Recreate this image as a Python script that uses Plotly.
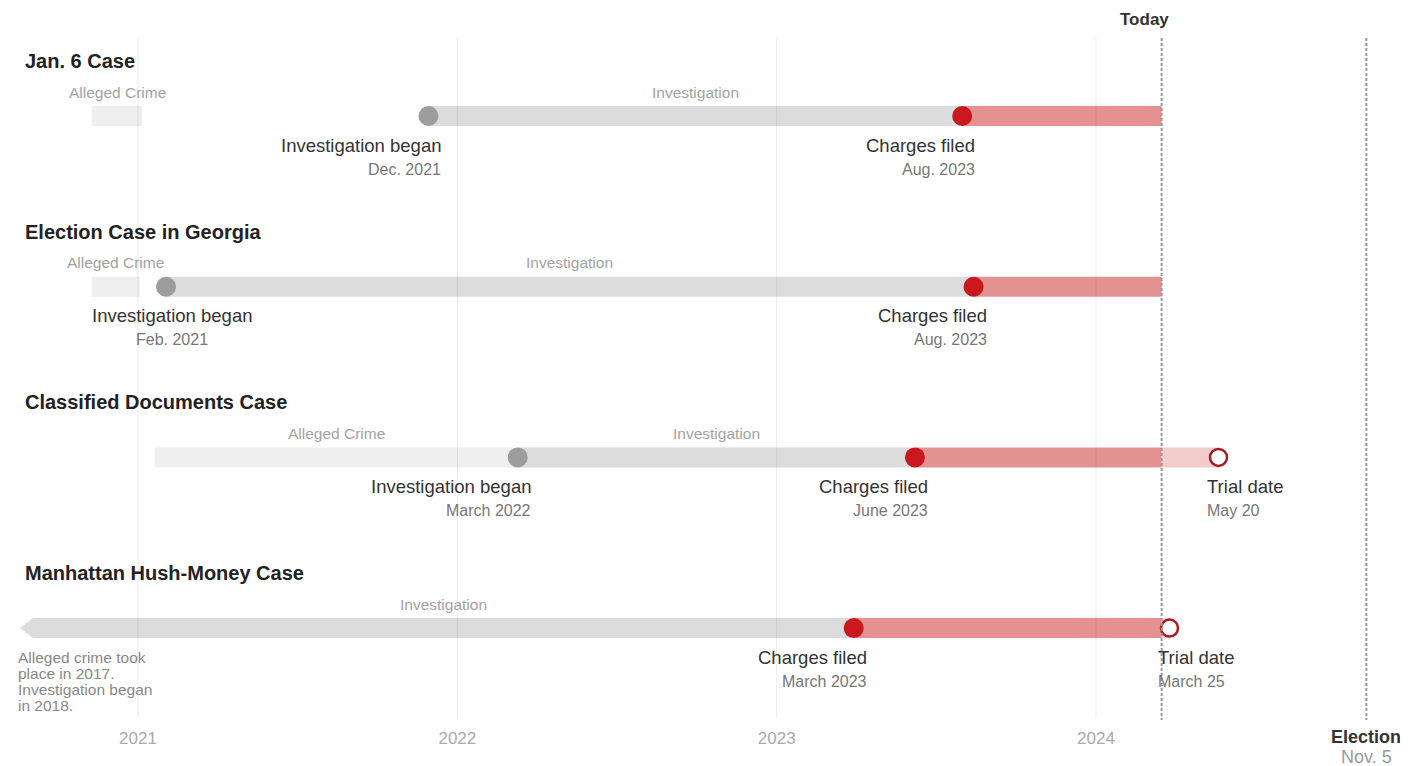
import plotly.graph_objects as go
import pandas as pd

# ---------------- data ----------------
cases = ["Jan. 6 Case", "Election Case in Georgia", "Classified Documents Case", "Manhattan Hush-Money Case"]
crime_start = ["2020-11-09", "2020-11-09", "2021-01-20", None]
crime_end = ["2021-01-06", "2021-01-03", "2022-03-11", None]
inv_start = ["2021-11-29", "2021-02-02", "2022-03-11", "2020-09-03"]
inv_has_dot = [True, True, True, False]
inv_label = ["Dec. 2021", "Feb. 2021", "March 2022", None]
charges = ["2023-08-01", "2023-08-14", "2023-06-08", "2023-03-30"]
charges_label = ["Aug. 2023", "Aug. 2023", "June 2023", "March 2023"]
trial = [None, None, "2024-05-20", "2024-03-25"]
trial_label = [None, None, "May 20", "March 25"]
today = "2024-03-16"
election = "2024-11-05"
year_ticks = ["2021-01-01", "2022-01-01", "2023-01-01", "2024-01-01"]
year_labels = ["2021", "2022", "2023", "2024"]
manhattan_note = ["Alleged crime took", "place in 2017.", "Investigation began", "in 2018."]

# ---------------- style ----------------
FONT = "Liberation Sans, Arial, sans-serif"
C_CRIME = "#efefef"
C_INV = "#dcdcdc"
C_RED = "#e39191"
C_PINK = "#f3cbcb"
C_DOT_GRAY = "#9d9d9d"
C_DOT_RED = "#c9181e"
C_RING = "#a51c24"
ROW0, ROW_GAP, HALF = 116, 170.7, 10
PAGE_OFF = 8          # default page body margin
W, H = 1408 - PAGE_OFF, 766 - PAGE_OFF


def midpoint(a, b):
    ta, tb = pd.Timestamp(a), pd.Timestamp(b)
    return (ta + (tb - ta) / 2).strftime("%Y-%m-%d %H:%M")


fig = go.Figure()
shapes = []
ann = []


def rect(x0, x1, y, color):
    shapes.append(dict(type="rect", xref="x", yref="y", x0=x0, x1=x1,
                       y0=y - HALF, y1=y + HALF, fillcolor=color,
                       line=dict(width=0), layer="below"))


for i, name in enumerate(cases):
    y = ROW0 + ROW_GAP * i
    # title
    ann.append(dict(xref="paper", yref="y", x=(23 - PAGE_OFF) / W, y=y - 55, text=f"<b>{name}</b>",
                    xanchor="left", yanchor="middle", showarrow=False,
                    font=dict(family=FONT, size=20, color="#222")))
    # alleged crime
    if crime_start[i]:
        rect(crime_start[i], crime_end[i], y, C_CRIME)
        ann.append(dict(xref="x", yref="y", x=midpoint(crime_start[i], crime_end[i]), y=y - 24,
                        text="Alleged Crime", showarrow=False, xanchor="center", yanchor="middle",
                        font=dict(family=FONT, size=15.5, color="#a3a3a3")))
    # investigation
    rect(inv_start[i], charges[i], y, C_INV)
    ann.append(dict(xref="x", yref="y", x=midpoint(inv_start[i], charges[i]), y=y - 24,
                    text="Investigation", showarrow=False, xanchor="center", yanchor="middle",
                    font=dict(family=FONT, size=15.5, color="#a3a3a3")))
    if not inv_has_dot[i]:
        shapes.append(dict(type="path", xref="x", yref="y", xsizemode="pixel", ysizemode="pixel",
                           xanchor=inv_start[i], yanchor=y,
                           path=f"M0,-{HALF} L0,{HALF} L-13,0 Z",
                           fillcolor=C_INV, line=dict(width=0), layer="below"))
    # charged -> today
    rect(charges[i], today, y, C_RED)
    if trial[i]:
        rect(today, trial[i], y, C_PINK)

    # investigation began dot + labels
    if inv_has_dot[i]:
        fig.add_trace(go.Scatter(x=[inv_start[i]], y=[y], mode="markers", hoverinfo="skip",
                                 marker=dict(size=20, color=C_DOT_GRAY, line=dict(width=0))))
        if i == 1:
            xa, xs = "center", 6
        else:
            xa, xs = "right", 15
        ann.append(dict(xref="x", yref="y", x=inv_start[i], y=y + 29, text="Investigation began",
                        showarrow=False, xanchor=xa, xshift=xs, yanchor="middle",
                        font=dict(family=FONT, size=18.5, color="#333")))
        ann.append(dict(xref="x", yref="y", x=inv_start[i], y=y + 53, text=inv_label[i],
                        showarrow=False, xanchor=xa, xshift=xs, yanchor="middle",
                        font=dict(family=FONT, size=16, color="#777")))
    # charges dot + labels
    fig.add_trace(go.Scatter(x=[charges[i]], y=[y], mode="markers", hoverinfo="skip",
                             marker=dict(size=20, color=C_DOT_RED, line=dict(width=0))))
    ann.append(dict(xref="x", yref="y", x=charges[i], y=y + 29, text="Charges filed",
                    showarrow=False, xanchor="right", xshift=15, yanchor="middle",
                    font=dict(family=FONT, size=18.5, color="#333")))
    ann.append(dict(xref="x", yref="y", x=charges[i], y=y + 53, text=charges_label[i],
                    showarrow=False, xanchor="right", xshift=15, yanchor="middle",
                    font=dict(family=FONT, size=16, color="#777")))
    # trial
    if trial[i]:
        fig.add_trace(go.Scatter(x=[trial[i]], y=[y], mode="markers", hoverinfo="skip",
                                 marker=dict(size=17, color="white", line=dict(width=2.5, color=C_RING))))
        ann.append(dict(xref="x", yref="y", x=trial[i], y=y + 29, text="Trial date",
                        showarrow=False, xanchor="left", xshift=-14, yanchor="middle",
                        font=dict(family=FONT, size=18.5, color="#333")))
        ann.append(dict(xref="x", yref="y", x=trial[i], y=y + 53, text=trial_label[i],
                        showarrow=False, xanchor="left", xshift=-14, yanchor="middle",
                        font=dict(family=FONT, size=16, color="#777")))

# Manhattan note
y3 = ROW0 + ROW_GAP * 3
for k, line in enumerate(manhattan_note):
    ann.append(dict(xref="paper", yref="y", x=(16 - PAGE_OFF) / W, y=y3 + 29 + 16 * k, text=line,
                    showarrow=False, xanchor="left", yanchor="middle",
                    font=dict(family=FONT, size=15.5, color="#888")))

# grid lines (on top of bars, faint)
for d in year_ticks:
    shapes.append(dict(type="line", xref="x", yref="y", x0=d, x1=d, y0=38, y1=718,
                       line=dict(color="rgba(0,0,0,0.08)", width=1), layer="above"))
for d in [today, election]:
    shapes.append(dict(type="line", xref="x", yref="y", x0=d, x1=d, y0=38, y1=720,
                       line=dict(color="#9a9a9a", width=2, dash="3px,2px"), layer="above"))

ann.append(dict(xref="x", yref="y", x=today, y=19, text="<b>Today</b>", showarrow=False,
                xanchor="right", xshift=9, yanchor="middle",
                font=dict(family=FONT, size=17, color="#333")))
# below the plot area: paper-referenced so they are not hidden
ann.append(dict(xref="x", yref="paper", x=election, y=0, yshift=-17, text="<b>Election</b>",
                showarrow=False, xanchor="center", yanchor="middle",
                font=dict(family=FONT, size=18, color="#333")))
ann.append(dict(xref="x", yref="paper", x=election, y=0, yshift=-37, text="Nov. 5",
                showarrow=False, xanchor="center", yanchor="middle",
                font=dict(family=FONT, size=18, color="#999")))

fig.update_layout(
    width=W, height=H,
    margin=dict(l=0, r=0, t=0, b=46),
    paper_bgcolor="white", plot_bgcolor="white",
    showlegend=False,
    shapes=shapes, annotations=ann,
    xaxis=dict(type="date", range=["2020-08-05 09:36", "2024-12-22 14:00"],
               tickvals=year_ticks, ticktext=year_labels, showgrid=False, zeroline=False,
               showline=False, ticks="", ticklabelstandoff=6,
               tickfont=dict(family=FONT, size=17, color="#aaa"), fixedrange=True),
    yaxis=dict(range=[720, PAGE_OFF], visible=False, fixedrange=True),
)
for tr in fig.data:
    tr.cliponaxis = False

fig.write_html("out.html")
